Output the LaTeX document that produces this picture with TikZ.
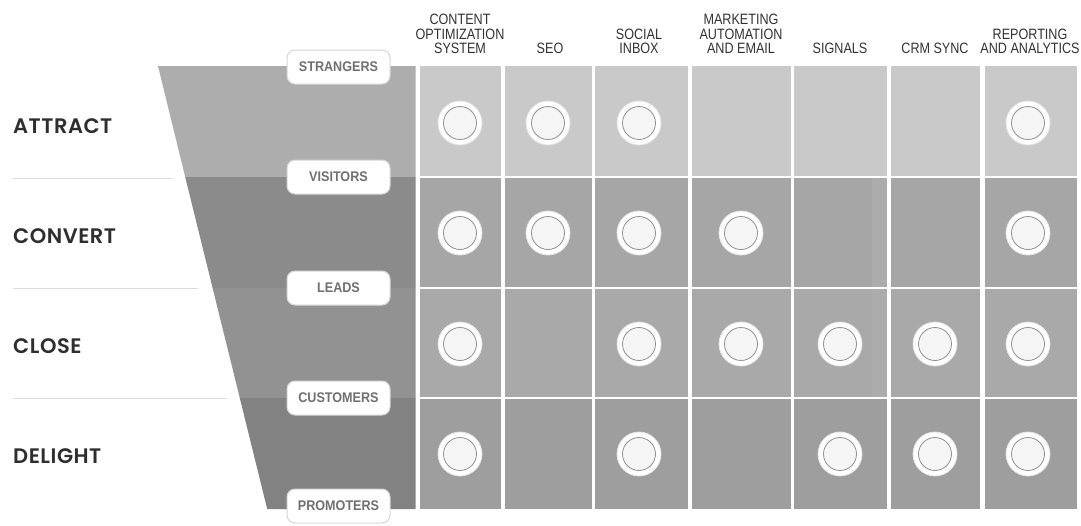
\documentclass[tikz,border=0pt]{standalone}
\usepackage{fontspec}
\setmainfont{Liberation Sans}
\newfontfamily\hdrfont[FakeStretch=0.84]{Liberation Sans}
\newfontfamily\pillfont[FakeStretch=0.9]{Liberation Sans}
\newfontfamily\stagefont[LetterSpace=2.5,BoldFont={Poppins SemiBold}]{Poppins}
\definecolor{funA}{HTML}{ADADAD}
\definecolor{funB}{HTML}{8B8B8B}
\definecolor{funC}{HTML}{929292}
\definecolor{funD}{HTML}{828282}
\definecolor{cellA}{HTML}{C9C9C9}
\definecolor{cellB}{HTML}{A6A6A6}
\definecolor{cellC}{HTML}{A9A9A9}
\definecolor{cellD}{HTML}{9E9E9E}
\definecolor{strip}{HTML}{ACACAC}
\definecolor{hdrtext}{HTML}{333333}
\definecolor{stagetext}{HTML}{2E2E2E}
\definecolor{pilltext}{HTML}{707070}
\definecolor{pilledge}{HTML}{D6D6D6}
\definecolor{sepline}{HTML}{DDDDDD}
\definecolor{ringgray}{HTML}{909090}
\definecolor{innerfill}{HTML}{F5F5F5}
\tikzset{
  hdr/.style={anchor=south, inner sep=0pt, align=center, text=hdrtext,
    font=\hdrfont\fontsize{15}{14.5}\selectfont},
  stage/.style={anchor=base west, inner sep=0pt, text=stagetext,
    font=\stagefont\bfseries\fontsize{21}{21}\selectfont},
  pill/.style={rounded corners=8pt, fill=white, draw=pilledge, line width=1pt,
    minimum width=103pt, minimum height=34pt, inner sep=0pt, text=pilltext,
    font=\pillfont\bfseries\fontsize{14}{14}\selectfont},
  dot/.style={circle, fill=white, draw=white!90!black, line width=0.8pt,
    minimum size=44pt, inner sep=0pt,
    path picture={
      \fill[innerfill] (path picture bounding box.center) circle (16.5pt);
      \draw[ringgray, line width=0.8pt] (path picture bounding box.center) circle (16.5pt);
    }},
  sep/.style={draw=sepline, line width=1pt}
}
\begin{document}
\begin{tikzpicture}[x=1pt,y=-1pt]
\useasboundingbox (0,0) rectangle (1081,525);
\fill[white] (0,0) rectangle (1081,525);

% funnel bands
\fill[funA] (158,66) -- (415.5,66) -- (415.5,177) -- (185.2,177) -- cycle;
\fill[funB] (185.2,177) -- (415.5,177) -- (415.5,288) -- (212.6,288) -- cycle;
\fill[funC] (212.6,288) -- (415.5,288) -- (415.5,398) -- (239.8,398) -- cycle;
\fill[funD] (239.8,398) -- (415.5,398) -- (415.5,509) -- (267.2,509) -- cycle;

% grid cells
\foreach \xl/\xr [count=\i] in {420/501,505/592,595/688,692/791,794/887,891/980,985/1077}{
  \fill[cellA] (\xl,66) rectangle (\xr,176);
  \fill[cellB] (\xl,178) rectangle (\xr,287);
  \fill[cellC] (\xl,289) rectangle (\xr,397);
  \fill[cellD] (\xl,399) rectangle (\xr,509);
}
\fill[strip] (872,178) rectangle (887,287);
\fill[strip] (872,289) rectangle (887,397);

% left separators
\draw[sep] (13,178) -- (173,178);
\draw[sep] (13,288) -- (198,288);
\draw[sep] (13,398) -- (227,398);

% stage labels
\node[stage] (attract) at (13,133) {ATTRACT};
\node[stage] (convert) at (13,243) {CONVERT};
\node[stage] (close) at (13,353) {CLOSE};
\node[stage] (delight) at (13,463) {DELIGHT};

% column headers
\node[hdr] (h1) at (460,54) {CONTENT\\OPTIMIZATION\\SYSTEM};
\node[hdr] (h2) at (550,54) {SEO};
\node[hdr] (h3) at (639,54) {SOCIAL\\INBOX};
\node[hdr] (h4) at (741,54) {MARKETING\\AUTOMATION\\AND EMAIL};
\node[hdr] (h5) at (840,54) {SIGNALS};
\node[hdr] (h6) at (935,54) {CRM SYNC};
\node[hdr] (h7) at (1030,54) {REPORTING\\AND ANALYTICS};

% pills
\node[pill] (strangers) at (338.5,67) {STRANGERS};
\node[pill] (visitors) at (338.5,177) {VISITORS};
\node[pill] (leads) at (338.5,288) {LEADS};
\node[pill] (customers) at (338.5,398) {CUSTOMERS};
\node[pill] (promoters) at (338.5,506) {PROMOTERS};

% circles
\foreach \c/\x in {1/460,2/548,3/639,7/1028}{
  \node[dot] (d1-\c) at (\x,123) {};
}
\foreach \c/\x in {1/460,2/548,3/639,4/741,7/1028}{
  \node[dot] (d2-\c) at (\x,233) {};
}
\foreach \c/\x in {1/460,3/639,4/741,5/840,6/935,7/1028}{
  \node[dot] (d3-\c) at (\x,344) {};
}
\foreach \c/\x in {1/460,3/639,5/840,6/935,7/1028}{
  \node[dot] (d4-\c) at (\x,454) {};
}
\end{tikzpicture}
\end{document}
